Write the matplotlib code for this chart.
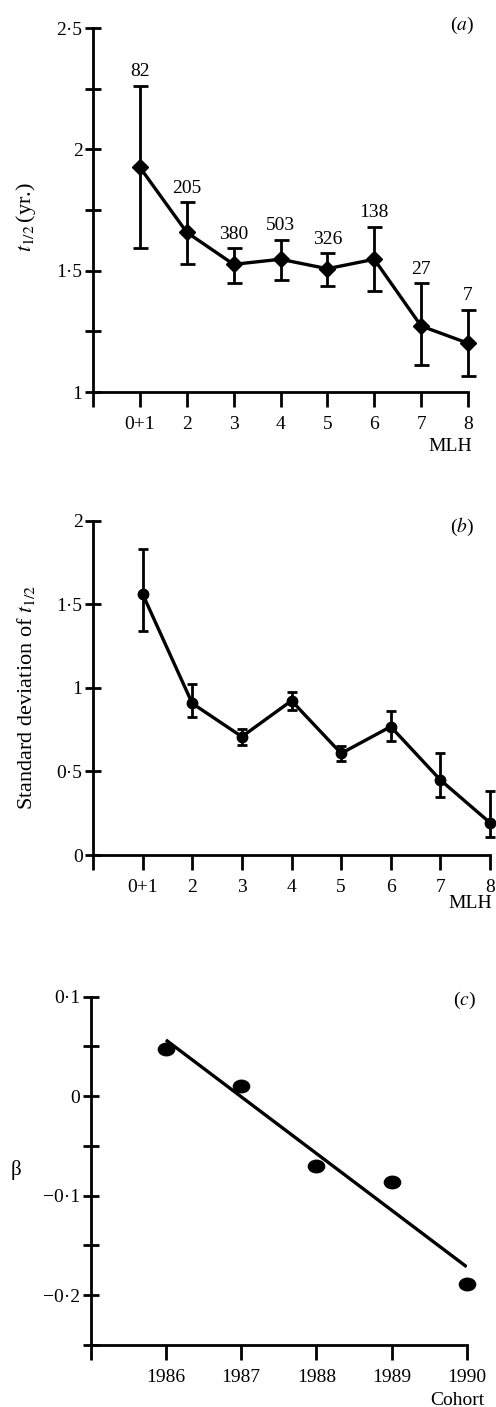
import numpy as np
import matplotlib
matplotlib.use("Agg")
import matplotlib.pyplot as plt
from matplotlib.ticker import FuncFormatter
from matplotlib.markers import MarkerStyle
from matplotlib.transforms import Affine2D

plt.rcParams['font.family'] = ['Liberation Serif', 'DejaVu Serif']
plt.rcParams['mathtext.fontset'] = 'stix'
plt.rcParams['font.size'] = 14

# panel (a) and (b): by MLH class
mlh_labels = ['0+1', '2', '3', '4', '5', '6', '7', '8']
n_obs = [82, 205, 380, 503, 326, 138, 27, 7]

t_half = [1.926, 1.658, 1.526, 1.547, 1.508, 1.547, 1.272, 1.201]
t_half_hi = [2.261, 1.782, 1.592, 1.628, 1.571, 1.680, 1.448, 1.338]
t_half_lo = [1.592, 1.527, 1.448, 1.461, 1.438, 1.416, 1.110, 1.066]

sd_half = [1.561, 0.907, 0.708, 0.923, 0.608, 0.768, 0.449, 0.193]
sd_half_hi = [1.829, 1.021, 0.752, 0.973, 0.652, 0.863, 0.608, 0.383]
sd_half_lo = [1.342, 0.828, 0.656, 0.867, 0.562, 0.684, 0.349, 0.110]

# panel (c): beta by cohort
cohorts = [1986, 1987, 1988, 1989, 1990]
beta = [0.0475, 0.0107, -0.0702, -0.0863, -0.189]

W, H = 496, 1407
fig = plt.figure(figsize=(W / 100, H / 100), dpi=100)


def box(left, right, top, bottom):
    return [left / W, 1 - bottom / H, (right - left) / W, (bottom - top) / H]


ax_a = fig.add_axes(box(93, 468, 28, 392))
ax_b = fig.add_axes(box(93, 490, 520.7, 855))
ax_c = fig.add_axes(box(90.7, 466.7, 996.7, 1345))


def dotfmt(v, pos=None):
    return f"{v:g}".replace('.', '·').replace('-', '−')


def style(ax):
    for s in ['top', 'right']:
        ax.spines[s].set_visible(False)
    for s in ['left', 'bottom']:
        ax.spines[s].set_linewidth(2)
    ax.tick_params(axis='y', which='both', direction='inout', length=11, width=2, pad=2)
    ax.tick_params(axis='x', which='both', direction='out', length=11, width=2, pad=6)
    ax.yaxis.set_major_formatter(FuncFormatter(dotfmt))


x = np.arange(1, len(mlh_labels) + 1)
lw = 2.4

# (a)
style(ax_a)
t = np.array(t_half)
yerr_a = [t - np.array(t_half_lo), np.array(t_half_hi) - t]
ax_a.errorbar(x, t, yerr=yerr_a, color='black', lw=lw, elinewidth=2, capsize=5.4, capthick=2,
              marker='D', markersize=8, clip_on=False, zorder=3)
for xi, top, n in zip(x, t_half_hi, n_obs):
    ax_a.annotate(str(n), (xi, top), xytext=(0, 4), textcoords='offset points',
                  ha='center', va='bottom', fontsize=14)
ax_a.set_xlim(0, 8)
ax_a.set_ylim(1, 2.5)
ax_a.set_yticks([1, 1.5, 2, 2.5])
ax_a.set_yticks([1.25, 1.75, 2.25], minor=True)
ax_a.set_xticks(np.arange(0, 9))
ax_a.set_xticklabels([''] + mlh_labels)
ax_a.text(-0.179, 0.48, r'$t_{1/2}\,$(yr.)', transform=ax_a.transAxes, rotation=90,
          ha='center', va='center', fontsize=16)
ax_a.text(0.952, -0.151, 'MLH', transform=ax_a.transAxes, ha='center', va='center')
ax_a.text(0.984, 1.008, r'($a$)', transform=ax_a.transAxes, ha='center', va='center')

# (b)
style(ax_b)
s = np.array(sd_half)
yerr_b = [s - np.array(sd_half_lo), np.array(sd_half_hi) - s]
ax_b.errorbar(x, s, yerr=yerr_b, color='black', lw=lw, elinewidth=2, capsize=3.8, capthick=2,
              marker='o', markersize=7.5, clip_on=False, zorder=3)
ax_b.set_xlim(0, 8)
ax_b.set_ylim(0, 2)
ax_b.set_yticks([0, 0.5, 1, 1.5, 2])
ax_b.set_xticks(np.arange(0, 9))
ax_b.set_xticklabels([''] + mlh_labels)
ax_b.text(-0.169, 0.47, r'Standard deviation of $t_{1/2}$', transform=ax_b.transAxes,
          rotation=90, ha='center', va='center', fontsize=16)
ax_b.text(0.95, -0.144, 'MLH', transform=ax_b.transAxes, ha='center', va='center')
ax_b.text(0.929, 0.981, r'($b$)', transform=ax_b.transAxes, ha='center', va='center')

# (c)
style(ax_c)
ell = MarkerStyle('o', transform=Affine2D().scale(1.3, 1.0))
ax_c.plot(cohorts, beta, linestyle='none', marker=ell, markersize=9, color='black',
          clip_on=False, zorder=3)
slope, icpt = np.polyfit(cohorts, beta, 1)
xf = np.array([cohorts[0], cohorts[-1]])
ax_c.plot(xf, slope * xf + icpt, color='black', lw=lw, solid_capstyle='butt', zorder=2)
ax_c.set_xlim(1985, 1990)
ax_c.set_ylim(-0.25, 0.1)
ax_c.set_yticks([-0.2, -0.1, 0, 0.1])
ax_c.set_yticks([-0.25, -0.15, -0.05, 0.05], minor=True)
ax_c.set_xticks(np.arange(1985, 1991))
ax_c.set_xticklabels([''] + [str(c) for c in cohorts])
ax_c.text(-0.199, 0.502, 'β', transform=ax_c.transAxes, ha='center', va='center', fontsize=15)
ax_c.text(0.974, -0.158, 'Cohort', transform=ax_c.transAxes, ha='center', va='center')
ax_c.text(0.995, 0.99, r'($c$)', transform=ax_c.transAxes, ha='center', va='center')

fig.savefig('out.png', dpi=100)
